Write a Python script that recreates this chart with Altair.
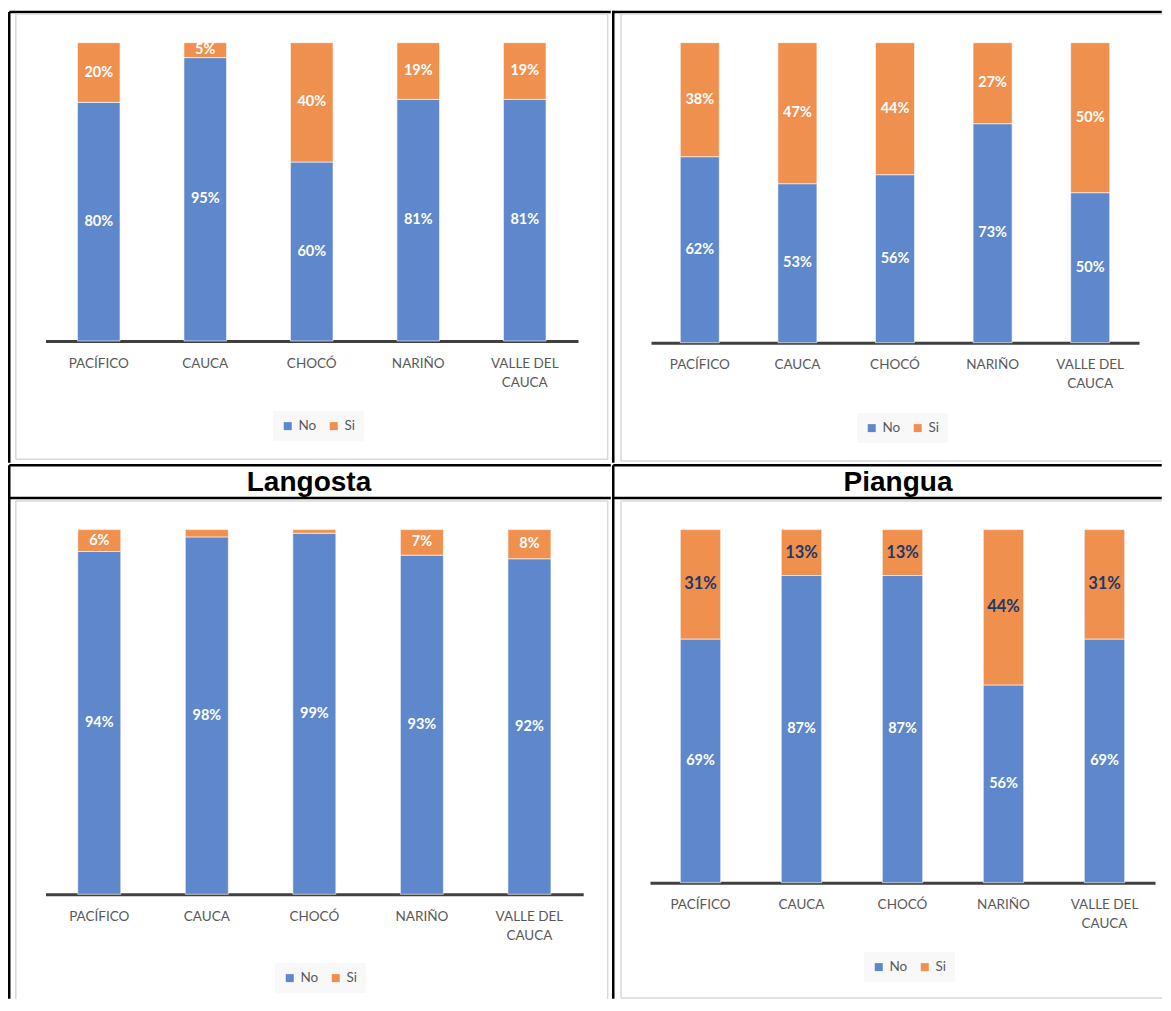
import altair as alt
import pandas as pd

regions = ["PACÍFICO", "CAUCA", "CHOCÓ", "NARIÑO", "VALLE DEL CAUCA"]
series = ["No", "Si"]

tl_no = [80, 95, 60, 81, 81]
tl_si = [20, 5, 40, 19, 19]
tr_no = [62, 53, 56, 73, 50]
tr_si = [38, 47, 44, 27, 50]
langosta_no = [94, 98, 99, 93, 92]
langosta_si = [6, 2, 1, 7, 8]
langosta_si_labels = ["6%", "", "", "7%", "8%"]
piangua_no = [69, 87, 87, 56, 69]
piangua_si = [31, 13, 13, 44, 31]

titles = ["Langosta", "Piangua"]

BLUE = "#5E88CB"
ORANGE = "#EF904F"
NAVY = "#1F3864"
GRAY_FRAME = "#D9D9D9"
BLACK = "#000000"
FONT = "Lato"
LW = 2.5       # table line width
E = LW / 2     # half line width, keeps lines inside each cell


def make_df(no, si, si_labels=None):
    rows = []
    for i, r in enumerate(regions):
        rows.append(dict(region=r, serie="No", value=no[i] / 100.0,
                         label=f"{no[i]}%", order=0))
        lab = f"{si[i]}%" if si_labels is None else si_labels[i]
        rows.append(dict(region=r, serie="Si", value=si[i] / 100.0,
                         label=lab, order=1))
    return pd.DataFrame(rows)


def rule(x1, y1, x2, y2, color, width):
    return alt.Chart(pd.DataFrame({"k": [0]})).mark_rule(
        color=color, strokeWidth=width
    ).encode(x=alt.value(x1), y=alt.value(y1), x2=alt.value(x2), y2=alt.value(y2))


def panel(df, W, H, xr, yr, legend_xy, deco, title=None, title_xy=None,
          si_color="white", si_size=14.5):
    xaxis = alt.Axis(
        title=None, labelAngle=0, ticks=False, grid=False,
        domainColor="#404040", domainWidth=3,
        labelColor="#595959", labelFont=FONT, labelFontSize=13.5,
        labelPadding=15, labelLineHeight=19, labelOverlap=False,
        offset=yr[0] - H,
        labelExpr="datum.label == 'VALLE DEL CAUCA' ? ['VALLE DEL', 'CAUCA'] : datum.label",
    )
    xscale = alt.Scale(domain=regions, range=xr, paddingInner=0.6, paddingOuter=0.3)
    x = alt.X("region:N", sort=regions, scale=xscale, axis=xaxis)
    yscale = alt.Scale(domain=[0, 1], range=yr, nice=False, zero=True)

    base = alt.Chart(df).transform_stack(
        stack="value", groupby=["region"], as_=["y0", "y1"],
        sort=[alt.SortField("order", order="ascending")],
    ).transform_calculate(mid="(datum.y0 + datum.y1) / 2")

    bars = base.mark_bar(stroke="white", strokeWidth=1, strokeOpacity=0.6).encode(
        x=x,
        y=alt.Y("y0:Q", scale=yscale, axis=None),
        y2="y1:Q",
        color=alt.Color(
            "serie:N",
            scale=alt.Scale(domain=series, range=[BLUE, ORANGE]),
            legend=alt.Legend(
                title=None, orient="none", legendX=legend_xy[0], legendY=legend_xy[1],
                direction="horizontal", symbolType="square", symbolSize=64,
                symbolStrokeWidth=0, labelFont=FONT, labelFontSize=13.5,
                labelColor="#595959", fillColor="#F8F8F8", padding=8,
                columnPadding=10, labelOffset=4,
            ),
        ),
    )
    txt_no = base.transform_filter("datum.serie == 'No' && datum.label != ''").mark_text(
        font=FONT, fontWeight="bold", fontSize=14.5, color="white", baseline="middle"
    ).encode(x=x, y=alt.Y("mid:Q", scale=yscale, axis=None), text="label:N")
    txt_si = base.transform_filter("datum.serie == 'Si' && datum.label != ''").mark_text(
        font=FONT, fontWeight="bold", fontSize=si_size, color=si_color, baseline="middle"
    ).encode(x=x, y=alt.Y("mid:Q", scale=yscale, axis=None), text="label:N")

    layers = [rule(*d) for d in deco] + [bars, txt_no, txt_si]
    if title is not None:
        t = alt.Chart(pd.DataFrame({"t": [title]})).mark_text(
            font="Liberation Sans", fontWeight="bold", fontSize=28, color="black",
            baseline="middle", align="center"
        ).encode(x=alt.value(title_xy[0]), y=alt.value(title_xy[1]), text="t:N")
        layers.append(t)
    return alt.layer(*layers).properties(width=W, height=H)


# cell-relative coordinates; top cells start at page y=8, bottom cells at page y=464
O = 4  # the table's top line sits 4px inside the top cells

W1, H1 = 604, 456
tl = panel(
    make_df(tl_no, tl_si), W1, H1, [37.5, 570], [329 + O, 30.7 + O], (265, 399 + O),
    deco=[
        (E, O, E, H1 - E, BLACK, LW),
        (E, O, W1 - E, O, BLACK, LW),
        (7.8, 1.5 + O, 7.8, 447.3 + O, GRAY_FRAME, 1.5),
        (599.7, 1.5 + O, 599.7, 447.3 + O, GRAY_FRAME, 1.5),
        (7.8, 2 + O, 599.7, 2 + O, GRAY_FRAME, 1.5),
        (7.8, 447.3 + O, 599.7, 447.3 + O, GRAY_FRAME, 1.5),
    ],
)

W2 = 551
tr = panel(
    make_df(tr_no, tr_si), W2, H1, [39, 527], [330.7 + O, 30.7 + O], (245, 401 + O),
    deco=[
        (E, O - E, E, H1 - E, BLACK, LW),
        (E, O, W2 - E, O, BLACK, LW),
        (9, 2 + O, 9, 449 + O, GRAY_FRAME, 1.5),
        (9, 2 + O, W2 - 1, 2 + O, GRAY_FRAME, 1.5),
        (9, 449 + O, W2 - 1, 449 + O, GRAY_FRAME, 1.5),
    ],
)

H2 = 536
bl = panel(
    make_df(langosta_no, langosta_si, langosta_si_labels), W1, H2,
    [37.5, 575.2], [430.3, 65.6], (267, 499),
    deco=[
        (E, E, E, H2 - E, BLACK, LW),
        (E, E, W1 - E, E, BLACK, LW),
        (E, 34, W1 - E, 34, BLACK, LW),
        (7.8, 37, 7.8, H2 - 1, GRAY_FRAME, 1.5),
        (599.7, 37, 599.7, H2 - 1, GRAY_FRAME, 1.5),
        (7.8, 37, 599.7, 37, GRAY_FRAME, 1.5),
    ],
    title=titles[0], title_xy=(301, 19),
)

br = panel(
    make_df(piangua_no, piangua_si), W2, H2,
    [38, 543], [418.7, 65.6], (252, 488),
    deco=[
        (E, E, E, H2 - E, BLACK, LW),
        (E, E, W2 - E, E, BLACK, LW),
        (E, 34, W2 - E, 34, BLACK, LW),
        (9, 37, 9, 534, GRAY_FRAME, 1.5),
        (9, 37, W2 - 1, 37, GRAY_FRAME, 1.5),
        (9, 534, W2 - 1, 534, GRAY_FRAME, 1.5),
    ],
    title=titles[1], title_xy=(286, 19),
    si_color=NAVY, si_size=16.5,
)

chart = alt.concat(tl, tr, bl, br, columns=2, spacing=0).resolve_scale(
    x="independent", y="independent", color="independent"
).resolve_legend(color="independent").resolve_axis(x="independent").properties(
    padding=0
).configure_view(stroke=None)

chart.save("out.html", embed_options={"renderer": "svg", "actions": False})
